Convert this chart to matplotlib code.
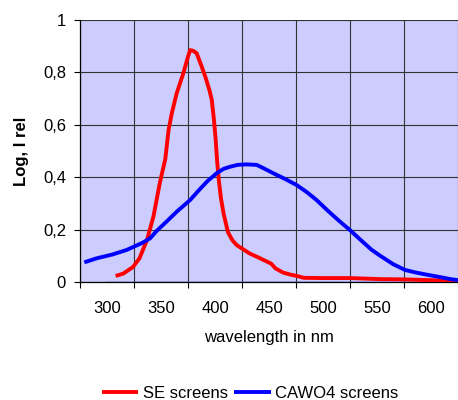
import matplotlib
matplotlib.use("Agg")
import matplotlib.pyplot as plt
from matplotlib.ticker import FixedLocator, FixedFormatter

plt.rcParams['font.family'] = ['Liberation Sans', 'DejaVu Sans']

# SE screens (red)
se_nm = [308, 315, 324, 330, 337, 343, 349, 354, 357, 360, 364.5, 370.7, 375, 377,
         380, 383, 387, 391, 395, 397, 399, 400.5, 402, 403.5, 405.5, 408, 412, 416,
         420, 426, 432, 440, 448, 452, 456, 463, 470, 476, 482, 500, 525, 553, 574,
         600, 618, 625]
se_val = [0.023, 0.032, 0.057, 0.09, 0.16, 0.25, 0.38, 0.47, 0.58, 0.644, 0.72, 0.797,
          0.86, 0.885, 0.882, 0.873, 0.83, 0.784, 0.73, 0.695, 0.62, 0.55, 0.46, 0.39,
          0.32, 0.26, 0.19, 0.16, 0.141, 0.125, 0.109, 0.094, 0.078, 0.07, 0.052, 0.036,
          0.028, 0.023, 0.016, 0.015, 0.015, 0.011, 0.010, 0.007, 0.005, 0.003]

# CAWO4 screens (blue)
ca_nm = [279, 290, 305, 318, 325, 333, 340, 346, 355, 365, 377, 385, 393, 401.5, 408,
         414, 421, 429, 438.6, 446, 454, 465, 475.6, 485, 494, 505, 515, 525, 535, 545,
         553, 565, 576, 585, 596, 608, 618, 625]
ca_val = [0.075, 0.09, 0.105, 0.122, 0.135, 0.15, 0.167, 0.195, 0.23, 0.27, 0.313, 0.35,
          0.385, 0.415, 0.432, 0.44, 0.447, 0.449, 0.447, 0.432, 0.415, 0.393, 0.37,
          0.343, 0.313, 0.27, 0.233, 0.198, 0.16, 0.123, 0.1, 0.068, 0.046, 0.037,
          0.028, 0.019, 0.011, 0.007]

# baseline series
base_nm = [299, 625]
base_val = [0, 0]

x_ticks = [300, 350, 400, 450, 500, 550, 600]
x_labels = ['300', '350', '400', '450', '500', '550', '600']
x_bounds = [275, 325, 375, 425, 475, 525, 575, 625]
y_ticks = [0, 0.2, 0.4, 0.6, 0.8, 1.0]
y_labels = ['0', '0,2', '0,4', '0,6', '0,8', '1']

fig = plt.figure(figsize=(4.58, 4.0), dpi=100)
ax = fig.add_axes([80/458, 1-282/400, 378/458, 262/400])
ax.set_facecolor('#CCCCFF')

ax.plot(base_nm, base_val, color='#3333FF', lw=1.0, zorder=3)
ax.plot(se_nm, se_val, color='#FF0000', lw=2.8, label='SE screens', zorder=4,
        solid_joinstyle='round', solid_capstyle='butt')
ax.plot(ca_nm, ca_val, color='#0000FF', lw=2.8, label='CAWO4 screens', zorder=4,
        solid_joinstyle='round', solid_capstyle='butt')

ax.set_xlim(275, 625)
ax.set_ylim(0, 1)

ax.xaxis.set_major_locator(FixedLocator(x_ticks))
ax.xaxis.set_major_formatter(FixedFormatter(x_labels))
ax.xaxis.set_minor_locator(FixedLocator(x_bounds))
ax.tick_params(axis='x', which='major', length=0, pad=14, labelsize=12)
ax.tick_params(axis='x', which='minor', length=4, width=0.8, direction='out', color='black')
ax.set_yticks(y_ticks)
ax.set_yticklabels(y_labels)
ax.tick_params(axis='y', which='major', length=4, width=0.8, direction='out', pad=6, labelsize=12)

ax.grid(True, which='minor', axis='x', color='#333333', lw=0.8)
ax.grid(True, which='major', axis='y', color='#333333', lw=0.8)
ax.set_axisbelow(True)

for s in ['top', 'right']:
    ax.spines[s].set_visible(False)
for s in ['left', 'bottom']:
    ax.spines[s].set_color('black')
    ax.spines[s].set_linewidth(0.9)

ax.set_xlabel('wavelength in nm', fontsize=12, labelpad=10)
ax.set_ylabel('Log, I rel', fontsize=12, fontweight='bold', labelpad=10)

fig.legend(loc='center', bbox_to_anchor=(250/458, 1-393/400), ncol=2, frameon=False,
           fontsize=12, handlelength=2.2, handletextpad=0.25, columnspacing=0.4,
           borderaxespad=0, borderpad=0)

fig.savefig('out.png', dpi=100)
